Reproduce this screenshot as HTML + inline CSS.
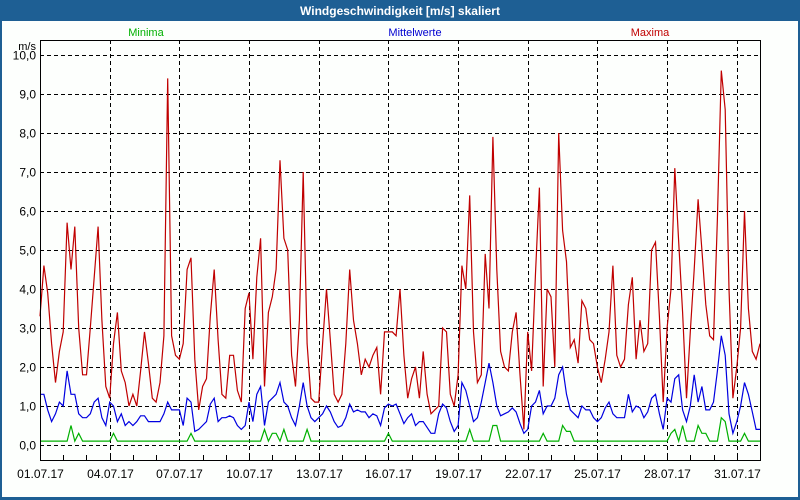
<!DOCTYPE html>
<html><head><meta charset="utf-8"><style>
html,body{margin:0;padding:0;background:#fff;}
svg{display:block;font-family:"Liberation Sans","DejaVu Sans",sans-serif;}
</style></head><body>
<svg id="chart" width="800" height="500">
<rect x="0" y="0" width="800" height="500" fill="#1e5f94"/>
<rect x="2" y="21" width="796" height="476" fill="#fdfffd"/>
<text x="400" y="15" text-anchor="middle" font-size="12" font-weight="bold" fill="#fff">Windgeschwindigkeit [m/s] skaliert</text>
<text x="146" y="36" text-anchor="middle" font-size="11" fill="#00b000">Minima</text>
<text x="415" y="36" text-anchor="middle" font-size="11" fill="#0000d0">Mittelwerte</text>
<text x="650" y="36" text-anchor="middle" font-size="11" fill="#c00000">Maxima</text>
<text x="36" y="50" text-anchor="end" font-size="11" fill="#000">m/s</text>
<g id="grid"></g><g id="series"></g><g id="axes"></g>
</svg>
<script>
const maxima=[3.3,4.6,3.9,2.6,1.6,2.4, 2.9,5.7,4.5,5.6,3.0,1.8, 1.8,3.0,4.3,5.6,3.2,1.5, 1.2,2.6,3.4,1.9,1.6,1.0, 1.3,1.0,1.9,2.9,2.1,1.2, 1.1,1.6,2.8,9.4,2.8,2.3, 2.2,2.6,4.5,4.8,2.2,0.9, 1.5,1.7,3.3,4.5,2.7,1.3, 1.2,2.3,2.3,1.4,1.1,3.5, 3.9,2.2,4.3,5.3,1.5,3.4, 3.8,4.5,7.3,5.3,5.0,2.3, 1.5,3.2,7.0,2.6,1.2,1.1, 1.1,2.6,4.0,2.7,1.3,1.1, 1.3,2.6,4.5,3.2,2.6,1.8, 2.2,2.0,2.3,2.5,1.3,2.9, 2.9,2.9,2.8,4.0,2.3,1.2, 1.7,2.0,1.2,2.4,1.3,0.8, 0.9,1.0,3.0,2.9,1.3,1.0, 1.8,4.6,4.0,6.4,2.9,1.6, 1.8,4.9,3.5,7.9,4.5,2.4, 2.0,1.9,2.9,3.4,1.8,0.4, 2.9,1.9,4.4,6.6,1.5,4.0, 3.8,2.0,8.0,5.5,4.7,2.5, 2.7,2.1,3.7,3.5,2.7,2.6, 2.0,1.6,2.2,2.9,4.6,2.3, 2.0,2.2,3.6,4.3,2.2,3.2, 2.4,2.6,5.0,5.2,3.3,1.1, 3.0,4.0,7.1,5.2,3.4,1.2, 2.9,4.5,6.3,5.0,3.6,2.8, 2.7,5.8,9.6,8.6,4.0,1.2, 2.0,3.0,6.0,3.5,2.4,2.2, 2.6];
const mittelwerte=[1.3,1.3,0.9,0.6,0.8,1.1, 1.0,1.9,1.3,1.3,0.8,0.7, 0.7,0.8,1.1,1.2,0.7,0.5, 1.1,1.0,0.6,0.8,0.5,0.6, 0.5,0.6,0.75,0.75,0.6,0.6, 0.6,0.6,0.8,1.1,0.9,0.9, 0.9,0.5,1.2,1.1,0.35,0.4, 0.5,0.6,1.05,1.2,0.6,0.7, 0.7,0.75,0.7,0.5,0.4,0.5, 1.1,0.6,1.3,1.5,0.5,1.1, 1.2,1.3,1.6,1.1,1.0,0.7, 0.5,1.0,1.6,1.0,0.7,0.6, 0.7,0.8,1.0,0.85,0.6,0.45, 0.5,0.7,1.05,0.85,0.9,0.85, 0.85,0.7,0.8,0.75,0.5,0.95, 1.05,1.0,1.05,0.8,0.55,0.7, 0.8,0.5,0.6,0.6,0.45,0.3, 0.3,0.8,1.05,0.95,0.6,0.35, 0.5,1.6,1.4,1.0,0.6,0.7, 1.1,1.6,2.1,1.6,1.0,0.75, 0.8,0.85,0.95,0.85,0.55,0.3, 0.4,1.0,1.1,1.4,0.8,1.0, 1.0,1.2,1.8,2.0,1.3,0.9, 0.8,0.7,1.0,0.9,0.9,0.7, 0.6,0.7,0.95,1.1,0.8,0.7, 0.7,0.7,1.3,0.85,1.0,0.95, 0.7,0.85,1.2,1.3,0.8,0.4, 1.2,1.1,1.7,1.8,0.9,0.6, 1.0,1.8,1.1,1.5,0.9,0.9, 1.1,1.9,2.8,2.3,0.8,0.3, 0.6,1.0,1.6,1.3,0.85,0.4, 0.4];
const minima=[
0.1,0.1,0.1,0.1,0.1,0.1,
0.1,0.1,0.5,0.1,0.3,0.1,
0.1,0.1,0.1,0.1,0.1,0.1,
0.1,0.3,0.1,0.1,0.1,0.1,
0.1,0.1,0.1,0.1,0.1,0.1,
0.1,0.1,0.1,0.1,0.1,0.1,
0.1,0.1,0.1,0.3,0.1,0.1,
0.1,0.1,0.1,0.1,0.1,0.1,
0.1,0.1,0.1,0.1,0.1,0.1,
0.1,0.1,0.1,0.1,0.4,0.1,
0.3,0.3,0.1,0.4,0.1,0.1,
0.1,0.1,0.1,0.4,0.1,0.1,
0.1,0.1,0.1,0.1,0.1,0.1,
0.1,0.1,0.1,0.1,0.1,0.1,
0.1,0.1,0.1,0.1,0.1,0.1,
0.3,0.1,0.1,0.1,0.1,0.1,
0.1,0.1,0.1,0.1,0.1,0.1,
0.1,0.1,0.1,0.1,0.1,0.1,
0.1,0.1,0.1,0.4,0.1,0.1,
0.1,0.1,0.1,0.5,0.5,0.1,
0.1,0.1,0.1,0.1,0.1,0.1,
0.1,0.1,0.1,0.1,0.3,0.1,
0.1,0.1,0.1,0.5,0.35,0.35,
0.1,0.1,0.1,0.1,0.1,0.1,
0.1,0.1,0.1,0.1,0.1,0.1,
0.1,0.1,0.1,0.1,0.1,0.1,
0.1,0.1,0.1,0.1,0.1,0.1,
0.1,0.3,0.4,0.1,0.5,0.1,
0.1,0.1,0.5,0.3,0.3,0.1,
0.1,0.1,0.7,0.6,0.1,0.1,
0.1,0.1,0.3,0.1,0.1,0.1,
0.1];
const yTicks=["0,0","1,0","2,0","3,0","4,0","5,0","6,0","7,0","8,0","9,0","10,0"];
const xLabels=["01.07.17","04.07.17","07.07.17","10.07.17","13.07.17","16.07.17","19.07.17","22.07.17","25.07.17","28.07.17","31.07.17"];
const hoursPerPoint=4;

const NS="http://www.w3.org/2000/svg";
const L=40,R=760,T=40,B=460,totalHours=744;
function xS(h){return L+(R-L)*h/totalHours;}
function yS(v){return 445-39*v;}
function mk(tag,attrs,parent){const e=document.createElementNS(NS,tag);for(const k in attrs)e.setAttribute(k,attrs[k]);parent.appendChild(e);return e;}
const grid=document.getElementById('grid'),series=document.getElementById('series'),axes=document.getElementById('axes');
yTicks.forEach((t,i)=>{
  const y=Math.round(yS(i))+0.5;
  const g=mk('line',{x1:L,x2:R,y1:y,y2:y,stroke:'#000','stroke-dasharray':'4,3','stroke-width':1},grid);
  
  
  const tx=mk('text',{x:36,y:y+4,'text-anchor':'end','font-size':12,fill:'#000'},axes);
  tx.textContent=t;
  
  
});
xLabels.forEach((t,i)=>{
  const x=Math.round(xS(i*72))+0.5;
  if(i>0){
    const g=mk('line',{x1:x,x2:x,y1:T,y2:B,stroke:'#000','stroke-dasharray':'4,3','stroke-width':1},grid);
    
    
  }
  const tx=mk('text',{x:x,y:478,'text-anchor':'middle','font-size':12,fill:'#000'},axes);
  tx.textContent=t;
  
  
});
for(let d=1;d<31;d++){
  const x=Math.round(xS(d*24))+0.5;
  const tk=mk('line',{x1:x,x2:x,y1:B-5,y2:B,stroke:'#000'},axes);
  
  
}
const frame=mk('rect',{x:L+0.5,y:T+0.5,width:R-L,height:B-T,fill:'none',stroke:'#000','stroke-width':1},axes);


function line(arr,color,name){
  const pts=arr.map((v,i)=>xS(i*hoursPerPoint).toFixed(1)+','+yS(v).toFixed(1)).join(' ');
  const p=mk('polyline',{points:pts,fill:'none',stroke:color,'stroke-width':1.2,'stroke-linejoin':'miter'},series);
  
  
}
line(minima,'#00b000','minima-line');
line(mittelwerte,'#0000e0','mittelwerte-line');
line(maxima,'#c00000','maxima-line');
</script>
</body></html>
